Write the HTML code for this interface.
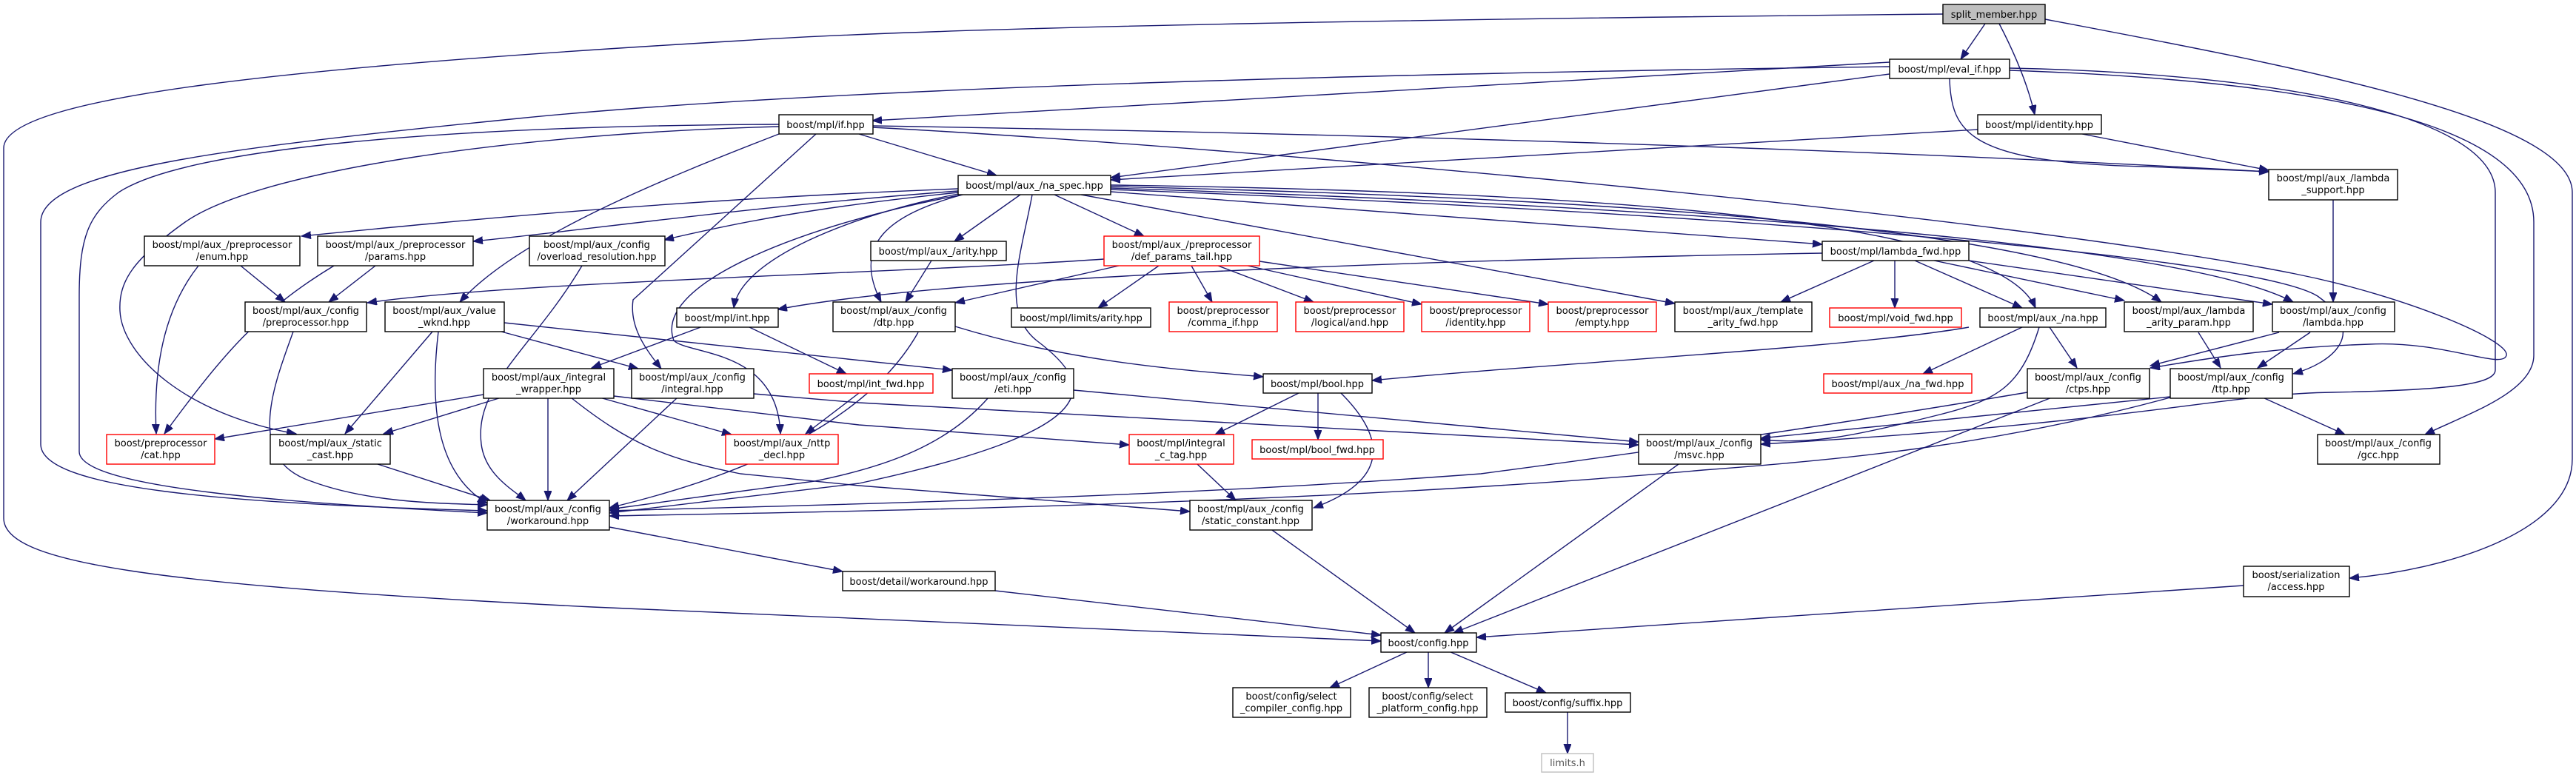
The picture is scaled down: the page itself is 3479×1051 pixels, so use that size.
<!DOCTYPE html>
<html><head><meta charset="utf-8"><style>
html,body{margin:0;padding:0;background:#fff;}
svg{display:block;}
text{font-family:"DejaVu Sans","Liberation Sans",sans-serif;font-size:13px;fill:#000;text-anchor:middle;}
.e{fill:none;stroke:#191970;stroke-width:1.4;marker-end:url(#a);}
.n{fill:#fff;stroke:#000;stroke-width:1.4;}
.r{fill:#fff;stroke:#ff0000;stroke-width:1.4;}
</style></head><body>
<svg width="3479" height="1051" viewBox="0 0 3479 1051" xmlns="http://www.w3.org/2000/svg">
<defs><marker id="a" markerUnits="userSpaceOnUse" markerWidth="14" markerHeight="11" refX="13" refY="5" orient="auto"><path d="M0,0 L13,5 L0,10 z" fill="#191970" stroke="#191970"/></marker></defs>
<g>
<path class="e" d="M2681,32 L2648,80"/>
<path class="e" d="M2700,32 C2725,80 2740,120 2748,155"/>
<path class="e" d="M2624,19 C2000,25 1300,35 1000,55 C400,90 5,130 5,200 L5,700 C5,760 200,790 800,820 L1865,866"/>
<path class="e" d="M2762,26 C3100,90 3474,160 3474,260 L3474,620 C3474,720 3300,770 3173,781"/>
<path class="e" d="M2552,84 L1178,163"/>
<path class="e" d="M2552,100 L1500,240"/>
<path class="e" d="M2552,90 C1800,100 1100,120 700,160 C300,200 55,230 55,300 L55,600 C55,660 300,680 658,690"/>
<path class="e" d="M2633,106 C2635,180 2660,220 2900,225 L3064,232"/>
<path class="e" d="M2714,92 C3100,100 3370,160 3370,260 L3370,500 C3370,520 3300,527 3150,530 C3000,532 2900,570 2378,600"/>
<path class="e" d="M2714,95 C3150,110 3422,170 3422,300 L3422,480 C3422,530 3330,560 3275,587"/>
<path class="e" d="M1160,181 L1346,237"/>
<path class="e" d="M1052,168 C600,170 250,200 160,260 C120,290 107,320 107,400 L107,610 C107,660 400,680 658,693"/>
<path class="e" d="M1052,171 C700,180 350,230 250,300 C180,350 160,380 162,420 C165,480 250,560 400,586"/>
<path class="e" d="M1052,181 C900,240 700,320 621,408"/>
<path class="e" d="M1102,181 L855,405 C850,440 870,470 893,498"/>
<path class="e" d="M1178,170 C1800,180 2500,200 3064,232"/>
<path class="e" d="M1178,172 C1700,200 2700,290 3100,370 C3250,400 3390,460 3385,480 C3380,500 3300,460 3200,465 C3050,470 2950,490 2904,497"/>
<path class="e" d="M2671,175 L1500,243"/>
<path class="e" d="M2812,181 L3064,230"/>
<path class="e" d="M3151,270 L3151,408"/>
<path class="e" d="M1294,255 C900,270 600,300 407,319"/>
<path class="e" d="M1294,258 C1000,280 800,310 639,326"/>
<path class="e" d="M1294,260 C1100,280 1000,300 897,324"/>
<path class="e" d="M1294,262 C1150,290 1000,350 991,416"/>
<path class="e" d="M1300,263 C1100,300 880,380 910,460 C930,480 1050,470 1054,586"/>
<path class="e" d="M1300,263 C1200,290 1150,330 1190,408"/>
<path class="e" d="M1378,263 L1289,326"/>
<path class="e" d="M1424,263 L1545,319"/>
<path class="e" d="M1394,263 C1380,340 1350,420 1400,460 C1480,520 1500,580 1160,653 L823,693"/>
<path class="e" d="M1460,263 L2262,410"/>
<path class="e" d="M1500,259 L2461,330"/>
<path class="e" d="M1500,250 C2200,260 2700,300 2749,416"/>
<path class="e" d="M1500,252 C2300,270 2800,320 2919,408"/>
<path class="e" d="M1500,254 C2300,280 2950,330 3097,408"/>
<path class="e" d="M1500,256 C2400,290 3050,350 3130,400 C3200,450 3150,490 3097,505"/>
<path class="e" d="M1290,441 C1450,490 1600,500 1706,509"/>
<path class="e" d="M1491,350 C1200,370 700,380 496,409"/>
<path class="e" d="M1511,359 L1290,409"/>
<path class="e" d="M1565,359 L1483,416"/>
<path class="e" d="M1609,359 L1637,408"/>
<path class="e" d="M1645,359 L1774,408"/>
<path class="e" d="M1685,359 L1920,411"/>
<path class="e" d="M1701,353 L2091,411"/>
<path class="e" d="M1258,352 L1223,408"/>
<path class="e" d="M2461,342 C2000,350 1300,370 1050,418"/>
<path class="e" d="M2531,352 L2405,408"/>
<path class="e" d="M2559,352 L2559,416"/>
<path class="e" d="M2586,352 L2731,416"/>
<path class="e" d="M2612,352 L2869,406"/>
<path class="e" d="M2659,352 L3069,411"/>
<path class="e" d="M2659,442 C2500,470 2100,490 1853,514"/>
<path class="e" d="M2731,442 L2597,505"/>
<path class="e" d="M2768,442 L2805,497"/>
<path class="e" d="M2754,442 C2730,520 2700,540 2620,560 C2500,590 2450,600 2378,594"/>
<path class="e" d="M2969,449 L2999,497"/>
<path class="e" d="M3078,449 L2904,494"/>
<path class="e" d="M3120,449 L3049,497"/>
<path class="e" d="M3056,537 L3167,587"/>
<path class="e" d="M2931,536 L2378,592"/>
<path class="e" d="M2931,537 C2700,600 2500,620 2300,635 C1800,680 1200,690 823,697"/>
<path class="e" d="M2738,530 C2500,570 2300,600 2000,640 C1600,670 1200,680 823,690"/>
<path class="e" d="M2771,537 L1963,855"/>
<path class="e" d="M2267,627 L1951,855"/>
<path class="e" d="M1718,716 L1911,855"/>
<path class="e" d="M1344,798 L1865,858"/>
<path class="e" d="M3030,791 L1994,861"/>
<path class="e" d="M1902,880 L1796,929"/>
<path class="e" d="M1929,880 L1929,929"/>
<path class="e" d="M1957,880 L2088,936"/>
<path class="e" d="M2117,962 L2117,1018"/>
<path class="e" d="M823,712 L1138,772"/>
<path class="e" d="M1754,531 L1641,587"/>
<path class="e" d="M1780,531 L1780,594"/>
<path class="e" d="M1811,531 C1850,570 1900,640 1774,686"/>
<path class="e" d="M1617,627 L1669,676"/>
<path class="e" d="M1450,527 L2213,597"/>
<path class="e" d="M1335,537 C1280,600 1200,630 1100,650 L823,688"/>
<path class="e" d="M949,441 L799,497"/>
<path class="e" d="M1010,441 L1143,505"/>
<path class="e" d="M1160,531 L1088,586"/>
<path class="e" d="M653,533 L290,593"/>
<path class="e" d="M677,537 L518,586"/>
<path class="e" d="M740,537 L740,676"/>
<path class="e" d="M810,537 L988,587"/>
<path class="e" d="M771,537 C850,600 900,620 1000,640 L1160,656 L1607,691"/>
<path class="e" d="M829,535 L1160,574 L1525,601"/>
<path class="e" d="M915,537 L766,676"/>
<path class="e" d="M1018,532 L1160,544 L2213,601"/>
<path class="e" d="M584,448 L466,586"/>
<path class="e" d="M592,448 C580,550 590,640 658,680"/>
<path class="e" d="M677,448 L862,498"/>
<path class="e" d="M681,436 L1286,500"/>
<path class="e" d="M268,359 C220,420 207,500 211,586"/>
<path class="e" d="M325,359 L385,408"/>
<path class="e" d="M451,359 C350,420 300,480 222,586"/>
<path class="e" d="M507,359 L444,408"/>
<path class="e" d="M786,359 C720,470 640,520 650,600 C655,640 690,660 710,676"/>
<path class="e" d="M396,448 C370,520 330,620 420,650 C500,680 600,680 658,682"/>
<path class="e" d="M510,627 L662,676"/>
<path class="e" d="M1240,449 C1200,520 1100,620 823,686"/>
</g>
<g>
<rect x="2624" y="6" width="138" height="26" fill="#bfbfbf" stroke="#000" stroke-width="1.4"/><text x="2693" y="24">split_member.hpp</text>
<rect class="n" x="2552" y="80" width="162" height="26"/><text x="2633" y="98">boost/mpl/eval_if.hpp</text>
<rect class="n" x="1052" y="155" width="127" height="26"/><text x="1115" y="173">boost/mpl/if.hpp</text>
<rect class="n" x="2671" y="155" width="167" height="26"/><text x="2754" y="173">boost/mpl/identity.hpp</text>
<rect class="n" x="1294" y="237" width="206" height="26"/><text x="1397" y="255">boost/mpl/aux_/na_spec.hpp</text>
<rect class="n" x="3064" y="229" width="174" height="41"/><text x="3151" y="245">boost/mpl/aux_/lambda</text><text x="3151" y="261">_support.hpp</text>
<rect class="n" x="195" y="319" width="210" height="40"/><text x="300" y="335">boost/mpl/aux_/preprocessor</text><text x="300" y="351">/enum.hpp</text>
<rect class="n" x="429" y="319" width="210" height="40"/><text x="534" y="335">boost/mpl/aux_/preprocessor</text><text x="534" y="351">/params.hpp</text>
<rect class="n" x="715" y="319" width="183" height="40"/><text x="806" y="335">boost/mpl/aux_/config</text><text x="806" y="351">/overload_resolution.hpp</text>
<rect class="n" x="1176" y="326" width="183" height="26"/><text x="1267" y="344">boost/mpl/aux_/arity.hpp</text>
<rect class="r" x="1491" y="319" width="210" height="40"/><text x="1596" y="335">boost/mpl/aux_/preprocessor</text><text x="1596" y="351">/def_params_tail.hpp</text>
<rect class="n" x="2461" y="326" width="198" height="26"/><text x="2560" y="344">boost/mpl/lambda_fwd.hpp</text>
<rect class="n" x="331" y="408" width="164" height="40"/><text x="413" y="424">boost/mpl/aux_/config</text><text x="413" y="440">/preprocessor.hpp</text>
<rect class="n" x="520" y="408" width="161" height="40"/><text x="600" y="424">boost/mpl/aux_/value</text><text x="600" y="440">_wknd.hpp</text>
<rect class="n" x="914" y="416" width="137" height="26"/><text x="982" y="434">boost/mpl/int.hpp</text>
<rect class="n" x="1125" y="408" width="165" height="40"/><text x="1207" y="424">boost/mpl/aux_/config</text><text x="1207" y="440">/dtp.hpp</text>
<rect class="n" x="1366" y="416" width="188" height="26"/><text x="1460" y="434">boost/mpl/limits/arity.hpp</text>
<rect class="r" x="1579" y="408" width="146" height="40"/><text x="1652" y="424">boost/preprocessor</text><text x="1652" y="440">/comma_if.hpp</text>
<rect class="r" x="1750" y="408" width="146" height="40"/><text x="1823" y="424">boost/preprocessor</text><text x="1823" y="440">/logical/and.hpp</text>
<rect class="r" x="1920" y="408" width="146" height="40"/><text x="1993" y="424">boost/preprocessor</text><text x="1993" y="440">/identity.hpp</text>
<rect class="r" x="2091" y="408" width="146" height="40"/><text x="2164" y="424">boost/preprocessor</text><text x="2164" y="440">/empty.hpp</text>
<rect class="n" x="2262" y="408" width="185" height="40"/><text x="2354" y="424">boost/mpl/aux_/template</text><text x="2354" y="440">_arity_fwd.hpp</text>
<rect class="r" x="2471" y="416" width="178" height="26"/><text x="2560" y="434">boost/mpl/void_fwd.hpp</text>
<rect class="n" x="2674" y="416" width="170" height="26"/><text x="2759" y="434">boost/mpl/aux_/na.hpp</text>
<rect class="n" x="2869" y="408" width="174" height="40"/><text x="2956" y="424">boost/mpl/aux_/lambda</text><text x="2956" y="440">_arity_param.hpp</text>
<rect class="n" x="3069" y="408" width="165" height="40"/><text x="3151" y="424">boost/mpl/aux_/config</text><text x="3151" y="440">/lambda.hpp</text>
<rect class="n" x="653" y="498" width="176" height="40"/><text x="741" y="514">boost/mpl/aux_/integral</text><text x="741" y="530">_wrapper.hpp</text>
<rect class="n" x="853" y="498" width="165" height="40"/><text x="935" y="514">boost/mpl/aux_/config</text><text x="935" y="530">/integral.hpp</text>
<rect class="r" x="1093" y="505" width="167" height="26"/><text x="1176" y="523">boost/mpl/int_fwd.hpp</text>
<rect class="n" x="1286" y="498" width="164" height="40"/><text x="1368" y="514">boost/mpl/aux_/config</text><text x="1368" y="530">/eti.hpp</text>
<rect class="n" x="1706" y="505" width="147" height="26"/><text x="1779" y="523">boost/mpl/bool.hpp</text>
<rect class="r" x="2463" y="505" width="200" height="26"/><text x="2563" y="523">boost/mpl/aux_/na_fwd.hpp</text>
<rect class="n" x="2738" y="498" width="165" height="40"/><text x="2820" y="514">boost/mpl/aux_/config</text><text x="2820" y="530">/ctps.hpp</text>
<rect class="n" x="2931" y="498" width="165" height="40"/><text x="3013" y="514">boost/mpl/aux_/config</text><text x="3013" y="530">/ttp.hpp</text>
<rect class="r" x="144" y="587" width="146" height="40"/><text x="217" y="603">boost/preprocessor</text><text x="217" y="619">/cat.hpp</text>
<rect class="n" x="365" y="587" width="162" height="40"/><text x="446" y="603">boost/mpl/aux_/static</text><text x="446" y="619">_cast.hpp</text>
<rect class="r" x="980" y="587" width="152" height="40"/><text x="1056" y="603">boost/mpl/aux_/nttp</text><text x="1056" y="619">_decl.hpp</text>
<rect class="r" x="1525" y="587" width="141" height="40"/><text x="1595" y="603">boost/mpl/integral</text><text x="1595" y="619">_c_tag.hpp</text>
<rect class="r" x="1691" y="594" width="177" height="26"/><text x="1779" y="612">boost/mpl/bool_fwd.hpp</text>
<rect class="n" x="2213" y="587" width="165" height="40"/><text x="2295" y="603">boost/mpl/aux_/config</text><text x="2295" y="619">/msvc.hpp</text>
<rect class="n" x="3130" y="587" width="165" height="40"/><text x="3212" y="603">boost/mpl/aux_/config</text><text x="3212" y="619">/gcc.hpp</text>
<rect class="n" x="658" y="676" width="165" height="40"/><text x="740" y="692">boost/mpl/aux_/config</text><text x="740" y="708">/workaround.hpp</text>
<rect class="n" x="1607" y="676" width="165" height="40"/><text x="1689" y="692">boost/mpl/aux_/config</text><text x="1689" y="708">/static_constant.hpp</text>
<rect class="n" x="1138" y="772" width="206" height="26"/><text x="1241" y="790">boost/detail/workaround.hpp</text>
<rect class="n" x="3030" y="765" width="143" height="41"/><text x="3101" y="781">boost/serialization</text><text x="3101" y="797">/access.hpp</text>
<rect class="n" x="1865" y="855" width="129" height="26"/><text x="1929" y="873">boost/config.hpp</text>
<rect class="n" x="1665" y="929" width="159" height="40"/><text x="1744" y="945">boost/config/select</text><text x="1744" y="961">_compiler_config.hpp</text>
<rect class="n" x="1849" y="929" width="159" height="40"/><text x="1928" y="945">boost/config/select</text><text x="1928" y="961">_platform_config.hpp</text>
<rect class="n" x="2033" y="936" width="169" height="26"/><text x="2117" y="954">boost/config/suffix.hpp</text>
<rect x="2082" y="1018" width="70" height="25" fill="#fff" stroke="#bfbfbf" stroke-width="1.4"/><text x="2117" y="1035" style="fill:#555">limits.h</text>
</g>
</svg>
</body></html>
